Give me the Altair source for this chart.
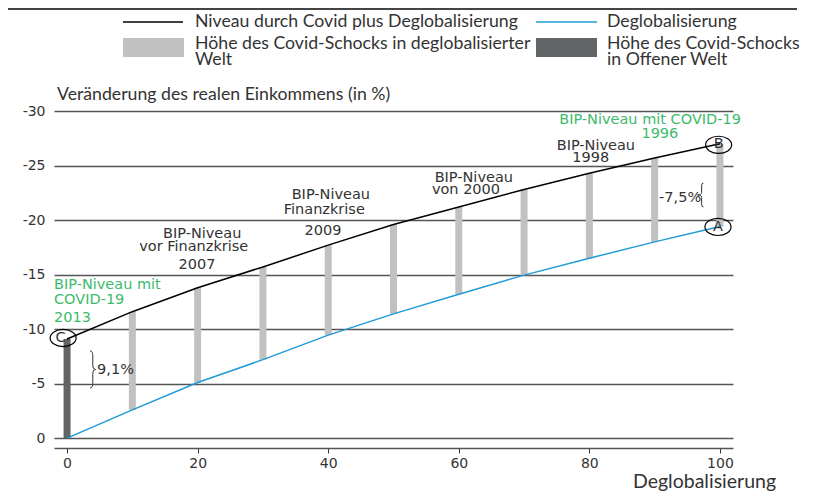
import altair as alt
import pandas as pd

# ---------------- data ----------------
deglob = [0, 10, 20, 30, 40, 50, 60, 70, 80, 90, 100]
covid_plus_deglob = [-9.1, -11.6, -13.8, -15.7, -17.7, -19.6, -21.2, -22.8, -24.3, -25.7, -27.0]
deglob_only = [0.0, -2.6, -5.1, -7.2, -9.45, -11.4, -13.2, -14.95, -16.5, -18.0, -19.4]

open_world_x = [0]
open_world_shock = [-9.1]

x_ticks = [0, 20, 40, 60, 80, 100]
y_ticks = [-30, -25, -20, -15, -10, -5, 0]

# annotations (in data units)
ann_center_text = ["BIP-Niveau", "vor Finanzkrise", "2007",
                   "BIP-Niveau", "Finanzkrise", "2009",
                   "BIP-Niveau", "von 2000",
                   "BIP-Niveau", "1998", "-7,5%"]
ann_center_x = [20.7, 19.4, 19.9, 40.4, 39.4, 39.2, 62.3, 61.1, 81.0, 80.2, 93.9]
ann_center_y = [-18.72, -17.53, -15.88, -22.3, -20.92, -19.0, -23.86, -22.76, -26.79, -25.69, -22.0]

ann_left_text = ["9,1%"]
ann_left_x = [4.6]
ann_left_y = [-6.25]

green_left_text = ["BIP-Niveau mit", "COVID-19", "2013"]
green_left_x = [-2.0, -2.0, -2.0]
green_left_y = [-14.05, -12.67, -11.02]

green_center_text = ["BIP-Niveau mit COVID-19", "1996"]
green_center_x = [89.3, 90.8]
green_center_y = [-29.18, -27.9]

point_labels = ["C", "B", "A"]
point_label_x = [-1.0, 99.8, 99.7]
point_label_y = [-9.19, -26.98, -19.37]
circle_x = [-0.6, 99.8, 99.7]
circle_y = [-9.19, -26.9, -19.37]

brace_r_x = [3.8]
brace_r_y = [-6.3]
brace_l_x = [97.1]
brace_l_y = [-22.3]

# ---------------- frames ----------------
df = pd.DataFrame({"x": deglob, "top": covid_plus_deglob, "bottom": deglob_only})
df_open = pd.DataFrame({"x": open_world_x, "top": open_world_shock, "bottom": [0.0]})
df_ann_c = pd.DataFrame({"x": ann_center_x, "y": ann_center_y, "t": ann_center_text})
df_ann_l = pd.DataFrame({"x": ann_left_x, "y": ann_left_y, "t": ann_left_text})
df_gl = pd.DataFrame({"x": green_left_x, "y": green_left_y, "t": green_left_text})
df_gc = pd.DataFrame({"x": green_center_x, "y": green_center_y, "t": green_center_text})
df_pl = pd.DataFrame({"x": point_label_x, "y": point_label_y, "t": point_labels})
df_circ = pd.DataFrame({"x": circle_x, "y": circle_y})
df_br = pd.DataFrame({"x": brace_r_x, "y": brace_r_y})
df_bl = pd.DataFrame({"x": brace_l_x, "y": brace_l_y})
one = pd.DataFrame({"k": [0]})

GREEN = "#3dba6c"
TXT = "#333333"
GRID = "#555555"
ANN_FONT = "DejaVu Sans"
LEG_FONT = "Lato"

xs = alt.Scale(domain=[-2, 102], nice=False, zero=False)
ys = alt.Scale(domain=[-30, 0.9], nice=False, zero=False, reverse=True)

AX = alt.Axis(values=x_ticks, title=None, grid=False, domainColor=GRID, domainWidth=1.3,
              tickColor=TXT, tickSize=5, tickWidth=1, labelFont=ANN_FONT, labelFontSize=14,
              labelColor=TXT, labelPadding=3)
AY = alt.Axis(values=y_ticks, title=None, domain=False, ticks=False, tickSize=0,
              labelPadding=9, labelFont=ANN_FONT, labelFontSize=14, labelColor=TXT,
              labelExpr="'' + datum.value", grid=True, gridColor=GRID, gridWidth=1.3)


def X(f="x"):
    return alt.X(f"{f}:Q", scale=xs, axis=AX)


def Y(f="y"):
    return alt.Y(f"{f}:Q", scale=ys, axis=AY)


bars = alt.Chart(df[df.x > 0]).mark_rule(strokeWidth=7, color="#c0c1c0").encode(
    x=X(), y=Y("bottom"), y2="top:Q")
open_bar = alt.Chart(df_open).mark_rule(strokeWidth=7, color="#626566").encode(
    x=X(), y=Y("bottom"), y2="top:Q")

line_top = alt.Chart(df).mark_line(color="black", strokeWidth=1.5).encode(x=X(), y=Y("top"))
line_bot = alt.Chart(df).mark_line(color="#1f9ad6", strokeWidth=1.5).encode(x=X(), y=Y("bottom"))

ellipse = "M-1,0A1,0.66,0,1,1,1,0A1,0.66,0,1,1,-1,0Z"
circles = alt.Chart(df_circ).mark_point(shape=ellipse, size=676, filled=False,
                                        stroke="black", strokeWidth=1.2, opacity=1).encode(x=X(), y=Y())

brace_right = "M-0.1,-1Q0.05,-1,0.05,-0.75L0.05,-0.2Q0.05,0,0.2,0Q0.05,0,0.05,0.2L0.05,0.75Q0.05,1,-0.1,1"
brace_left = "M0.2,-1Q0.05,-1,0.05,-0.75L0.05,-0.2Q0.05,0,-0.3,0Q0.05,0,0.05,0.2L0.05,0.75Q0.05,1,0.2,1"
br = alt.Chart(df_br).mark_point(shape=brace_right, size=37 * 37, filled=False,
                                 stroke=TXT, strokeWidth=1, opacity=1).encode(x=X(), y=Y())
bl = alt.Chart(df_bl).mark_point(shape=brace_left, size=24 * 24, filled=False,
                                 stroke=TXT, strokeWidth=1, opacity=1).encode(x=X(), y=Y())


def txt(d, align, color, size=14.5, font=ANN_FONT):
    return alt.Chart(d).mark_text(align=align, baseline="middle", font=font,
                                  fontSize=size, color=color).encode(x=X(), y=Y(), text="t:N")


t_center = txt(df_ann_c, "center", TXT)
t_left = txt(df_ann_l, "left", TXT)
t_gl = txt(df_gl, "left", GREEN)
t_gc = txt(df_gc, "center", GREEN)
t_pl = txt(df_pl, "center", TXT)


# ---------------- legend & titles (layout) ----------------
def ptext(s, x, y, size=17.7, align="left", font=LEG_FONT):
    return alt.Chart(one).mark_text(align=align, baseline="alphabetic", font=font,
                                    fontSize=size, color=TXT).encode(
        x=alt.value(x), y=alt.value(y), text=alt.value(s))


top_rule = alt.Chart(one).mark_rule(color="#444444", strokeWidth=2).encode(
    x=alt.value(-46), x2=alt.value(743), y=alt.value(-102))
leg_black = alt.Chart(one).mark_rule(color="black", strokeWidth=1.5).encode(
    x=alt.value(69), x2=alt.value(129), y=alt.value(-89))
leg_blue = alt.Chart(one).mark_rule(color="#1f9ad6", strokeWidth=1.5).encode(
    x=alt.value(482), x2=alt.value(543), y=alt.value(-89))
leg_gray = alt.Chart(one).mark_rect(color="#c0c1c0").encode(
    x=alt.value(69), x2=alt.value(130), y=alt.value(-73), y2=alt.value(-54))
leg_dark = alt.Chart(one).mark_rect(color="#626566").encode(
    x=alt.value(482), x2=alt.value(543), y=alt.value(-73), y2=alt.value(-54))

legend_texts = [
    ptext("Niveau durch Covid plus Deglobalisierung", 141, -84),
    ptext("Deglobalisierung", 553, -84),
    ptext("Höhe des Covid-Schocks in deglobalisierter", 141, -62),
    ptext("Welt", 141, -46.5),
    ptext("Höhe des Covid-Schocks", 553, -62),
    ptext("in Offener Welt", 553, -46.5),
    ptext("Veränderung des realen Einkommens (in %)", 3, -11),
    ptext("Deglobalisierung", 650.5, 377, size=19.5, align="center"),
]

chart = alt.layer(
    bars, open_bar, line_bot, line_top, circles, br, bl,
    t_center, t_left, t_gl, t_gc, t_pl,
    top_rule, leg_black, leg_blue, leg_gray, leg_dark, *legend_texts,
).properties(
    width=679, height=337,
    padding={"left": 46, "top": 103, "right": 72, "bottom": 44},
    autosize=alt.AutoSizeParams(type="none"),
    background="white",
).configure_view(stroke=None)

chart.save("out.html", embed_options={"renderer": "svg", "actions": False})
